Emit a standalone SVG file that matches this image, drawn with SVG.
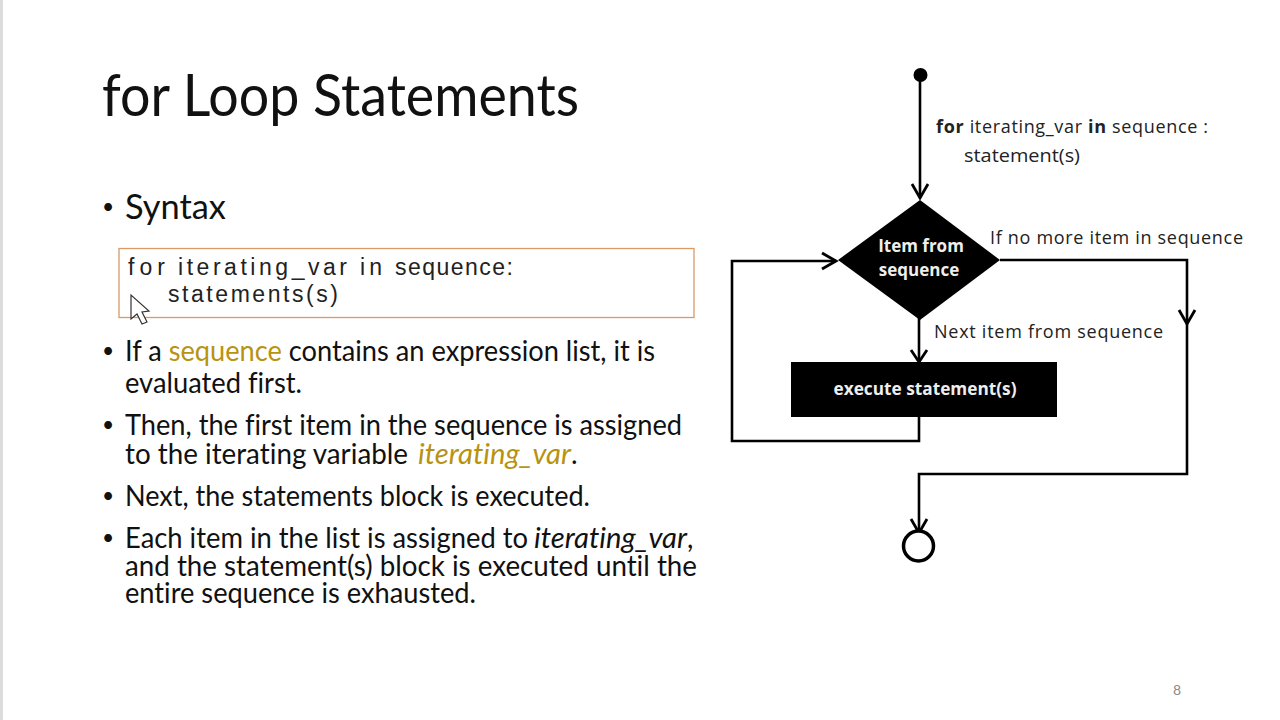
<svg xmlns="http://www.w3.org/2000/svg" width="1280" height="720" viewBox="0 0 1280 720">
<style>
.s{font-family:"Lato","Open Sans",sans-serif;fill:#111;font-variant-ligatures:none}
.b{font-size:28px}
.u{font-size:21px}
.t{font-family:"Lato","Open Sans",sans-serif;font-size:58px;fill:#111;font-variant-ligatures:none}
.m{font-family:"Liberation Sans",Arial,sans-serif;font-size:23px;fill:#222}
.g{fill:#b8930f}
.f{font-family:"Open Sans","Noto Sans",sans-serif;font-size:18px;fill:#222}
.w{font-family:"Open Sans","Noto Sans",sans-serif;font-size:17px;font-weight:700;fill:#eee;text-anchor:middle}
.c{fill:none;stroke:#000;stroke-width:2.600}
.h{fill:none;stroke:#000;stroke-width:2.800}
</style>
<rect width="1280" height="720" fill="#fff"/>
<rect x="0" y="0" width="3" height="720" fill="#dcdcdc"/>
<g id="slide-text">
<text class="t" x="102" y="116" textLength="477" lengthAdjust="spacingAndGlyphs">for Loop Statements</text>
<text class="s u" x="102" y="214">•</text>
<text class="s" x="125" y="219" font-size="34" textLength="101" lengthAdjust="spacingAndGlyphs">Syntax</text>
<text class="s u" x="102" y="358">•</text>
<text class="s b"><tspan x="125" y="361" textLength="530" lengthAdjust="spacingAndGlyphs">If a <tspan class="g">sequence</tspan> contains an expression list, it is</tspan><tspan x="125" y="393" textLength="177" lengthAdjust="spacingAndGlyphs">evaluated first.</tspan></text>
<text class="s u" x="102" y="432">•</text>
<text class="s b"><tspan x="125" y="435" textLength="557" lengthAdjust="spacingAndGlyphs">Then, the first item in the sequence is assigned</tspan><tspan x="125" y="464" textLength="283" lengthAdjust="spacingAndGlyphs">to the iterating variable</tspan><tspan class="g" x="418" y="464" font-style="italic" textLength="153" lengthAdjust="spacingAndGlyphs">iterating_var</tspan><tspan x="571" y="464">.</tspan></text>
<text class="s u" x="102" y="503">•</text>
<text class="s b" x="125" y="506" textLength="465" lengthAdjust="spacingAndGlyphs">Next, the statements block is executed.</text>
<text class="s u" x="102" y="545">•</text>
<text class="s b"><tspan x="125" y="548" textLength="403" lengthAdjust="spacingAndGlyphs">Each item in the list is assigned to</tspan><tspan x="534" y="548" font-style="italic" textLength="153" lengthAdjust="spacingAndGlyphs">iterating_var</tspan><tspan x="687" y="548">,</tspan><tspan x="125" y="576" textLength="572" lengthAdjust="spacingAndGlyphs">and the statement(s) block is executed until the</tspan><tspan x="125" y="603" textLength="351" lengthAdjust="spacingAndGlyphs">entire sequence is exhausted.</tspan></text>
<text x="1177" y="695" font-family="Lato,sans-serif" font-size="14" fill="#8a8a8a" text-anchor="middle">8</text>
</g>
<g id="syntax-box">
<rect x="119" y="248.500" width="575" height="69" fill="#fff" stroke="#d99a66" stroke-width="1.300"/>
<text class="m"><tspan x="128" y="275" textLength="37">for</tspan><tspan x="178" y="275" textLength="169">iterating_var</tspan><tspan x="360" y="275" textLength="22">in</tspan><tspan x="395" y="275" textLength="118">sequence:</tspan><tspan x="168" y="302" textLength="170">statements(s)</tspan></text>
<path d="M131 295V319L137 314L142 324L147 322L142 312L149 311Z" fill="#fff" stroke="#333" stroke-width="1.200"/>
</g>
<g id="connectors">
<path class="c" d="M920 75V198"/><path class="h" d="M912 184L920 198L928 184"/>
<path class="c" d="M1000 260H1187V474H919V533"/>
<path class="h" d="M1179 310L1187 324L1195 310"/>
<path class="h" d="M911 519L919 533L927 519"/>
<path class="c" d="M919 318V362"/><path class="h" d="M911 350L919 362L927 350"/>
<path class="c" d="M919 416V441H732V261H836"/>
<path class="h" d="M822 253L836 261L822 269"/>
</g>
<g id="start"><circle cx="920.500" cy="75" r="7" fill="#000"/></g>
<g id="decision">
<path d="M920 200L1000 260L920 320L838 260Z" fill="#000"/>
<text class="w" x="921" y="252">Item from</text>
<text class="w" x="919" y="276">sequence</text>
</g>
<g id="process">
<rect x="791" y="362" width="266" height="55" fill="#000"/>
<text class="w" x="925" y="395" textLength="183" lengthAdjust="spacingAndGlyphs">execute statement(s)</text>
</g>
<g id="end"><circle cx="918.500" cy="546" r="15" fill="#fff" stroke="#000" stroke-width="3.500"/></g>
<g id="labels">
<text class="f"><tspan x="936" y="133" textLength="272" lengthAdjust="spacing"><tspan font-weight="700">for</tspan> iterating_var <tspan font-weight="700">in</tspan> sequence :</tspan><tspan x="964" y="162" textLength="116" lengthAdjust="spacingAndGlyphs">statement(s)</tspan></text>
<text class="f" x="990" y="244" textLength="253" lengthAdjust="spacing">If no more item in sequence</text>
<text class="f" x="934" y="338" textLength="229" lengthAdjust="spacing">Next item from  sequence</text>
</g>
</svg>
